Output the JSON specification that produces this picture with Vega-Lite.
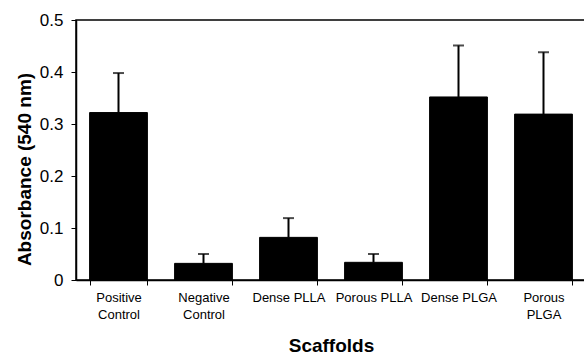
{
  "$schema": "https://vega.github.io/schema/vega-lite/v6.json",
  "width": 510,
  "height": 260,
  "autosize": {"type": "none"},
  "padding": {"left": 76, "top": 20, "right": 0, "bottom": 74},
  "background": "white",
  "config": {
    "font": "Liberation Sans",
    "view": {"stroke": "black", "strokeWidth": 1.5},
    "axis": {"domainColor": "black", "tickColor": "black", "labelColor": "black", "titleColor": "black", "grid": false, "domainWidth": 1.5, "tickWidth": 1}
  },
  "data": {
    "values": [
      {"scaffold": "Positive Control", "absorbance": 0.322, "upper": 0.398},
      {"scaffold": "Negative Control", "absorbance": 0.032, "upper": 0.05},
      {"scaffold": "Dense PLLA", "absorbance": 0.082, "upper": 0.119},
      {"scaffold": "Porous PLLA", "absorbance": 0.034, "upper": 0.05},
      {"scaffold": "Dense PLGA", "absorbance": 0.352, "upper": 0.451},
      {"scaffold": "Porous PLGA", "absorbance": 0.319, "upper": 0.438}
    ]
  },
  "encoding": {
    "x": {
      "field": "scaffold", "type": "nominal", "sort": null,
      "scale": {"paddingInner": 0.32, "paddingOuter": 0.16},
      "axis": {
        "title": "Scaffolds", "titleFontSize": 19, "titleFontWeight": "bold",
        "titleY": 71, "titleBaseline": "alphabetic",
        "labelAngle": 0, "labelFontSize": 13, "labelLineHeight": 17, "labelPadding": 6,
        "tickBand": "extent", "tickSize": 5,
        "labelExpr": "!isString(datum.value) ? '' : (indexof(['Dense PLLA','Porous PLLA','Dense PLGA'], datum.value) >= 0 ? datum.value : split(datum.value, ' '))"
      }
    }
  },
  "layer": [
    {
      "mark": {"type": "bar", "color": "black", "stroke": "black", "strokeWidth": 1},
      "encoding": {
        "y": {
          "field": "absorbance", "type": "quantitative",
          "scale": {"domain": [0, 0.5], "nice": false},
          "axis": {
            "title": "Absorbance (540 nm)", "titleFontSize": 19, "titleFontWeight": "bold",
            "titleX": -52, "titleY": 149, "titleAngle": -90, "titleAlign": "center", "titleBaseline": "middle",
            "values": [0, 0.1, 0.2, 0.3, 0.4, 0.5], "labelFontSize": 17, "labelPadding": 8, "tickSize": 5,
            "labelExpr": "datum.value == 0 ? '0' : format(datum.value, '.1f')"
          }
        }
      }
    },
    {
      "mark": {"type": "rule", "color": "black", "strokeWidth": 2},
      "encoding": {
        "y": {"field": "absorbance", "type": "quantitative"},
        "y2": {"field": "upper"}
      }
    },
    {
      "mark": {"type": "tick", "color": "black", "size": 11, "thickness": 2},
      "encoding": {
        "y": {"field": "upper", "type": "quantitative"}
      }
    }
  ]
}
